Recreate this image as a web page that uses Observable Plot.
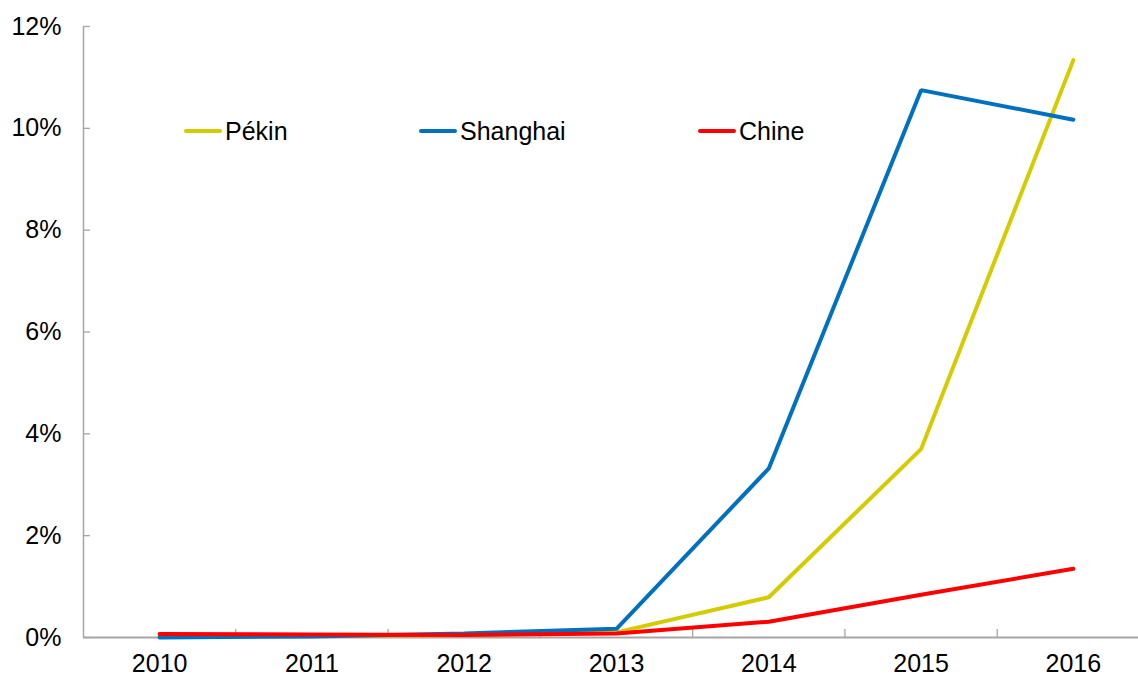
<!DOCTYPE html>
<html>
<head>
<meta charset="utf-8">
<script src="https://cdn.jsdelivr.net/npm/d3@7"></script>
<script src="https://cdn.jsdelivr.net/npm/@observablehq/plot@0.6"></script>
<style>
  html, body { margin: 0; padding: 0; background: #fff; overflow: hidden; }
  #wrap { position: relative; width: 1138px; height: 676px; font-family: "Liberation Sans", Arial, sans-serif; }
  .leg { position: absolute; top: 116px; display: flex; align-items: center; font-size: 25px; color: #000; line-height: 30px; }
  .leg .sw { display: inline-block; width: 38px; height: 4px; border-radius: 2px; margin-right: 3px; }
</style>
</head>
<body>
<div id="wrap"></div>
<script>
const years = [2010, 2011, 2012, 2013, 2014, 2015, 2016];
const yearLabels = ["2010", "2011", "2012", "2013", "2014", "2015", "2016"];
const seriesNames = ["Pékin", "Shanghai", "Chine"];
const seriesColors = ["#d4cc00", "#0070c0", "#ff0000"];
const pekin    = [0.0002, 0.0003, 0.0005, 0.0010, 0.0079, 0.0370, 0.1134];
const shanghai = [0.0000, 0.0002, 0.0008, 0.0017, 0.0332, 0.1075, 0.1017];
const chine    = [0.0007, 0.0006, 0.0005, 0.0008, 0.0031, 0.0084, 0.0135];
const yTicks = [0, 0.02, 0.04, 0.06, 0.08, 0.10, 0.12];
const bandEdges = [2010.5, 2011.5, 2012.5, 2013.5, 2014.5, 2015.5];

const seriesValues = [pekin, shanghai, chine];
const rows = [];
seriesNames.forEach((name, s) => {
  years.forEach((yr, i) => rows.push({series: name, year: yr, value: seriesValues[s][i]}));
});

const axisGray = "#a6a6a6";
const font = "Liberation Sans, Arial, sans-serif";

const chart = Plot.plot({
  width: 1138,
  height: 676,
  marginLeft: 83,
  marginRight: 0,
  marginTop: 26,
  marginBottom: 39,
  style: {fontFamily: font, fontSize: "25px", color: "#000", background: "#fff", overflow: "hidden"},
  x: {type: "linear", domain: [2009.5, 2016.5], range: [83, 1149]},
  y: {domain: [0, 0.12], range: [637, 26]},
  color: {domain: seriesNames, range: seriesColors},
  marks: [
    Plot.axisY({ticks: yTicks, tickSize: -7, tickPadding: 29, tickFormat: d3.format(".0%"), fontSize: 25, stroke: axisGray, fill: "#000", strokeWidth: 1.3, label: null}),
    Plot.axisX({ticks: years, tickSize: 0, tickPadding: 17, tickFormat: (d, i) => yearLabels[i], fontSize: 25, fill: "#000", label: null}),
    Plot.axisX({ticks: bandEdges, tickSize: -8, tickFormat: () => "", stroke: axisGray, strokeWidth: 1.3, label: null}),
    Plot.ruleX([2009.5], {y1: 0, y2: 0.12, stroke: axisGray, strokeWidth: 1.5}),
    Plot.ruleY([0], {x1: 2009.5, x2: 2016.5, stroke: axisGray, strokeWidth: 2}),
    Plot.line(rows, {x: "year", y: "value", z: "series", stroke: "series", strokeWidth: 4, strokeLinejoin: "miter", strokeLinecap: "round"})
  ]
});
const wrap = document.getElementById("wrap");
wrap.appendChild(chart);

const legendLefts = [184, 419, 698];
seriesNames.forEach((name, i) => {
  const item = document.createElement("div");
  item.className = "leg";
  item.style.left = legendLefts[i] + "px";
  const sw = document.createElement("span");
  sw.className = "sw";
  sw.style.background = seriesColors[i];
  const t = document.createElement("span");
  t.textContent = name;
  item.appendChild(sw);
  item.appendChild(t);
  wrap.appendChild(item);
});
</script>
</body>
</html>
